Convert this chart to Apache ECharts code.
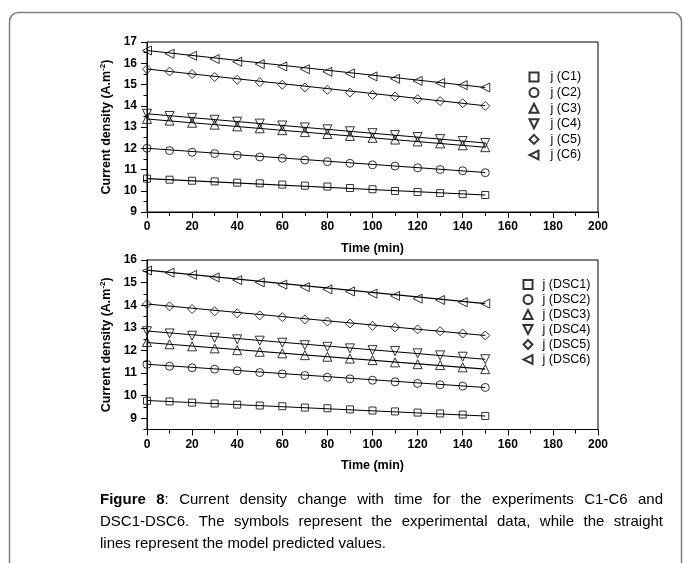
<!DOCTYPE html>
<html>
<head>
<meta charset="utf-8">
<script src="https://cdn.jsdelivr.net/npm/echarts@6/dist/echarts.min.js"></script>
<style>
  html, body { margin: 0; padding: 0; background: #fff; }
  #chart { width: 683px; height: 563px; }
</style>
</head>
<body>
<div id="chart"></div>
<script>
// Sampling times (min)
const times = [0, 10, 20, 30, 40, 50, 60, 70, 80, 90, 100, 110, 120, 130, 140, 150];
const xTicks = [0, 20, 40, 60, 80, 100, 120, 140, 160, 180, 200];

// Experiments C1-C6: measured current density (A.m^-2)
const namesC = ['j (C1)', 'j (C2)', 'j (C3)', 'j (C4)', 'j (C5)', 'j (C6)'];
const jC1 = [10.57, 10.52, 10.47, 10.44, 10.38, 10.35, 10.29, 10.24, 10.20, 10.13, 10.07, 9.99, 9.94, 9.89, 9.84, 9.80];
const jC2 = [12.00, 11.89, 11.81, 11.75, 11.67, 11.59, 11.53, 11.45, 11.37, 11.29, 11.22, 11.16, 11.08, 11.00, 10.94, 10.85];
const jC3 = [13.38, 13.30, 13.20, 13.11, 13.03, 12.94, 12.85, 12.76, 12.67, 12.58, 12.49, 12.41, 12.32, 12.23, 12.14, 12.05];
const jC4 = [13.62, 13.52, 13.43, 13.34, 13.25, 13.16, 13.07, 12.98, 12.89, 12.80, 12.71, 12.62, 12.53, 12.43, 12.34, 12.25];
const jC5 = [15.72, 15.61, 15.49, 15.35, 15.22, 15.11, 14.99, 14.86, 14.75, 14.62, 14.51, 14.44, 14.31, 14.22, 14.12, 13.99];
const jC6 = [16.60, 16.45, 16.35, 16.20, 16.07, 15.96, 15.85, 15.72, 15.60, 15.52, 15.38, 15.27, 15.17, 15.07, 14.97, 14.86];
// Model predictions for C1-C6 at the first and last sampling time
const modelTimes = [0, 150];
const modelC0 = [10.57, 12.00, 13.38, 13.62, 15.73, 16.60];
const modelC1 = [9.80, 10.86, 12.05, 12.25, 14.00, 14.86];

// Experiments DSC1-DSC6: measured current density (A.m^-2)
const namesD = ['j (DSC1)', 'j (DSC2)', 'j (DSC3)', 'j (DSC4)', 'j (DSC5)', 'j (DSC6)'];
const jD1 = [9.77, 9.74, 9.69, 9.65, 9.60, 9.56, 9.53, 9.47, 9.44, 9.39, 9.34, 9.30, 9.25, 9.21, 9.16, 9.10];
const jD2 = [11.38, 11.30, 11.23, 11.17, 11.10, 11.02, 10.96, 10.89, 10.81, 10.74, 10.68, 10.61, 10.54, 10.48, 10.42, 10.36];
const jD3 = [12.37, 12.27, 12.18, 12.09, 12.01, 11.94, 11.87, 11.79, 11.72, 11.64, 11.57, 11.47, 11.39, 11.35, 11.25, 11.17];
const jD4 = [12.85, 12.75, 12.65, 12.56, 12.49, 12.43, 12.34, 12.23, 12.16, 12.09, 12.01, 11.97, 11.87, 11.78, 11.72, 11.61];
const jD5 = [14.05, 13.95, 13.83, 13.73, 13.64, 13.55, 13.47, 13.37, 13.28, 13.19, 13.09, 13.02, 12.93, 12.85, 12.75, 12.66];
const jD6 = [15.53, 15.44, 15.34, 15.23, 15.11, 15.01, 14.91, 14.80, 14.70, 14.61, 14.51, 14.41, 14.29, 14.23, 14.13, 14.07];
const modelD0 = [9.78, 11.39, 12.35, 12.86, 14.05, 15.55];
const modelD1 = [9.10, 10.36, 11.17, 11.61, 12.66, 14.07];

// Axis tick values
const yTopTicks = [9, 10, 11, 12, 13, 14, 15, 16, 17];
const yBotTicks = [9, 10, 11, 12, 13, 14, 15, 16];

const caption = [
  'Figure 8: Current density change with time for the experiments C1-C6 and',
  'DSC1-DSC6. The symbols represent the experimental data, while the straight',
  'lines represent the model predicted values.'
];
const captionBold = 'Figure 8';

// ---- marker styles (square, circle, up, down, diamond, left) ----
const symbols = [
  'rect',
  'circle',
  'path://M1,0L2,2L0,2Z',
  'path://M0,0L2,0L1,2Z',
  'path://M1,0L2,1L1,2L0,1Z',
  'path://M2,0L2,2L0,1Z'
];
const symbolSz = [7, 8, 9, 9, 9, 9];

const FONT = '"Liberation Sans", Arial, sans-serif';

function pairs(xs, ys) { return xs.map((x, i) => [x, ys[i]]); }

function buildSeries(names, data, m0, m1, gridIdx) {
  const out = [];
  names.forEach((n, i) => {
    out.push({
      type: 'line', name: 'model ' + n, xAxisIndex: gridIdx, yAxisIndex: gridIdx * 2,
      data: pairs(modelTimes, [m0[i], m1[i]]),
      showSymbol: false, silent: true, z: 2,
      lineStyle: { color: '#000', width: 1.1 }
    });
  });
  names.forEach((n, i) => {
    out.push({
      type: 'scatter', name: n, xAxisIndex: gridIdx, yAxisIndex: gridIdx * 2,
      data: pairs(times, data[i]),
      symbol: symbols[i], symbolSize: symbolSz[i], z: 3,
      itemStyle: { color: 'rgba(255,255,255,0)', borderColor: '#000', borderWidth: 1 }
    });
  });
  return out;
}

const tickLabel = { fontFamily: FONT, fontWeight: 'bold', fontSize: 12, color: '#000' };
const yName = '{a|Current density (A.m}{s|-2}{a|)}';
const yNameStyle = {
  fontFamily: FONT, color: '#000',
  rich: {
    a: { fontFamily: FONT, fontWeight: 'bold', fontSize: 12.5, color: '#000' },
    s: { fontFamily: FONT, fontWeight: 'bold', fontSize: 8, color: '#000', padding: [0, 0, 7, 0] }
  }
};

function xAxisFor(gridIdx) {
  return {
    type: 'value', gridIndex: gridIdx, min: 0, max: 200, interval: 20,
    name: 'Time (min)', nameLocation: 'middle', nameGap: 30,
    nameTextStyle: { fontFamily: FONT, fontWeight: 'bold', fontSize: 12.5, color: '#000' },
    axisLine: { lineStyle: { color: '#000', width: 1 } },
    axisTick: { length: 6, lineStyle: { color: '#000' } },
    minorTick: { show: true, splitNumber: 2, length: 4, lineStyle: { color: '#000' } },
    axisLabel: Object.assign({ margin: 9 }, tickLabel),
    splitLine: { show: false }
  };
}

function yAxesFor(gridIdx, min, max, ticks) {
  return [{
    type: 'value', gridIndex: gridIdx, min: min, max: max,
    name: yName, nameLocation: 'middle', nameGap: 33, nameTextStyle: yNameStyle,
    axisLine: { lineStyle: { color: '#000', width: 1 } },
    axisTick: { length: 6, customValues: ticks, lineStyle: { color: '#000' } },
    axisLabel: Object.assign({ margin: 10, customValues: ticks }, tickLabel),
    splitLine: { show: false }
  }, {
    // half-unit minor ticks
    type: 'value', gridIndex: gridIdx, min: min, max: max, interval: 0.5, position: 'left',
    axisLine: { show: false },
    axisTick: { length: 3.5, lineStyle: { color: '#000' } },
    axisLabel: { show: false },
    splitLine: { show: false }
  }];
}

function legendFor(names, left, top, gap, textPad) {
  return {
    data: names, orient: 'vertical', left: left, top: top, padding: 0,
    itemGap: gap, itemWidth: 9, itemHeight: 9, selectedMode: false,
    textStyle: { fontFamily: FONT, fontSize: 12.5, color: '#000', padding: [0, 0, 0, textPad] }
  };
}

// ---- justified caption built from measured word widths ----
const measure = document.createElement('canvas').getContext('2d');
function textW(t, bold) {
  measure.font = (bold ? 'bold ' : '') + '15px "Liberation Sans"';
  return measure.measureText(t).width;
}
const capLeft = 100, capRight = 663, capTop = [500, 522, 544];
const captionGraphics = [];
caption.forEach((line, li) => {
  const words = line.split(' ');
  let idx = 0;
  const wordSegs = words.map(w => {
    const segs = [];
    for (let k = 0; k < w.length; k++) {
      const b = li === 0 && (idx + k) < captionBold.length;
      if (segs.length && segs[segs.length - 1].b === b) segs[segs.length - 1].t += w[k];
      else segs.push({ t: w[k], b: b });
    }
    idx += w.length + 1;
    segs.forEach(s => { s.w = textW(s.t, s.b); });
    return segs;
  });
  const widths = wordSegs.map(s => s.reduce((a, c) => a + c.w, 0));
  const total = widths.reduce((a, c) => a + c, 0);
  const justify = li < caption.length - 1;
  const gap = justify ? (capRight - capLeft - total) / (words.length - 1) : textW(' ', false);
  let x = capLeft;
  wordSegs.forEach((segs, wi) => {
    let sx = x;
    segs.forEach(s => {
      captionGraphics.push({
        type: 'text', x: sx, y: capTop[li],
        style: { text: s.t, fill: '#000', font: (s.b ? 'bold ' : '') + '15px "Liberation Sans"', verticalAlign: 'middle' }
      });
      sx += s.w;
    });
    x += widths[wi] + gap;
  });
});

const chart = echarts.init(document.getElementById('chart'), null, { renderer: 'canvas' });
chart.setOption({
  animation: false,
  backgroundColor: '#fff',
  grid: [
    { left: 147, top: 42, width: 451, height: 170, show: true, borderColor: '#000', borderWidth: 1, backgroundColor: 'transparent' },
    { left: 147, top: 260, width: 451, height: 169.5, show: true, borderColor: '#000', borderWidth: 1, backgroundColor: 'transparent' }
  ],
  xAxis: [xAxisFor(0), xAxisFor(1)],
  yAxis: yAxesFor(0, 9, 17, yTopTicks).concat(yAxesFor(1, 8.5, 16, yBotTicks)),
  legend: [
    legendFor(namesC, 528.5, 70.5, 2.6, 7),
    legendFor(namesD, 522.5, 278, 2.0, 5)
  ],
  graphic: [
    {
      type: 'rect', z: -1,
      shape: { x: 9.5, y: 12.5, width: 672, height: 600, r: 9 },
      style: { fill: 'none', stroke: '#808080', lineWidth: 1.5 }
    }
  ].concat(captionGraphics),
  series: buildSeries(namesC, [jC1, jC2, jC3, jC4, jC5, jC6], modelC0, modelC1, 0)
    .concat(buildSeries(namesD, [jD1, jD2, jD3, jD4, jD5, jD6], modelD0, modelD1, 1))
});
</script>
</body>
</html>
